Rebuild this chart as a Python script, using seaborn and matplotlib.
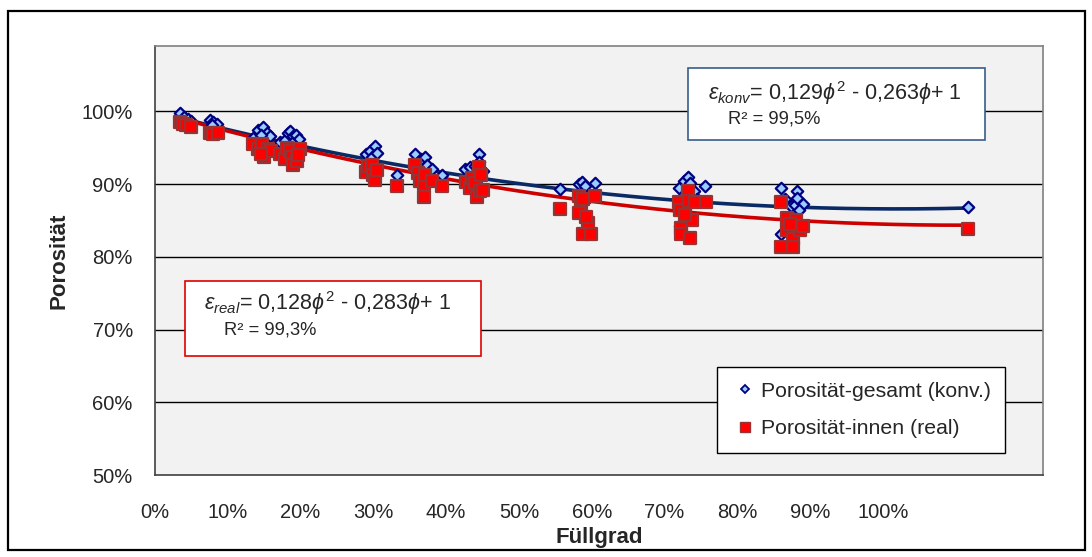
import numpy as np
import pandas as pd
import matplotlib
matplotlib.use("Agg")
import matplotlib.pyplot as plt
from matplotlib.lines import Line2D
from matplotlib.patches import Rectangle
import seaborn as sns

# Füllgrad / Porosität - gesamt (konventionell)
konv_x = [0.034, 0.040, 0.045, 0.050,
          0.076, 0.080, 0.085, 0.078,
          0.135, 0.141, 0.148, 0.154, 0.158, 0.145,
          0.172, 0.179, 0.183, 0.186, 0.190, 0.194, 0.198, 0.188,
          0.290, 0.295, 0.302, 0.298, 0.305,
          0.332,
          0.357, 0.365, 0.371, 0.374, 0.380, 0.394,
          0.426, 0.433, 0.440, 0.445, 0.445, 0.450, 0.447,
          0.556, 0.582, 0.587, 0.591, 0.604, 0.590,
          0.720, 0.727, 0.732, 0.735, 0.740, 0.755, 0.721, 0.745,
          0.860, 0.866, 0.874, 0.879, 0.882, 0.882, 0.890, 0.860, 0.885,
          1.117]
konv_y = [0.998, 0.993, 0.990, 0.987,
          0.988, 0.985, 0.983, 0.981,
          0.963, 0.974, 0.978, 0.971, 0.966, 0.968,
          0.958, 0.961, 0.971, 0.973, 0.966, 0.968, 0.962, 0.956,
          0.941, 0.945, 0.952, 0.937, 0.943,
          0.912,
          0.941, 0.935, 0.938, 0.927, 0.921, 0.913,
          0.921, 0.923, 0.925, 0.942, 0.930, 0.918, 0.910,
          0.894, 0.900, 0.903, 0.898, 0.902, 0.875,
          0.895, 0.905, 0.910, 0.902, 0.890, 0.898, 0.843, 0.880,
          0.895, 0.880, 0.870, 0.872, 0.890, 0.881, 0.873, 0.832, 0.865,
          0.868]

# Füllgrad / Porosität - innen (real)
real_x = [0.034, 0.038, 0.043, 0.050,
          0.076, 0.080, 0.086,
          0.135, 0.141, 0.147, 0.150, 0.155, 0.160, 0.145,
          0.172, 0.179, 0.182, 0.185, 0.188, 0.190, 0.195, 0.199, 0.197,
          0.290, 0.293, 0.298, 0.300, 0.302, 0.305,
          0.332,
          0.357, 0.362, 0.364, 0.369, 0.370, 0.371, 0.380, 0.394,
          0.427, 0.433, 0.436, 0.440, 0.443, 0.445, 0.446, 0.451, 0.448,
          0.556, 0.582, 0.585, 0.582, 0.588, 0.595, 0.588, 0.599, 0.604, 0.592,
          0.720, 0.721, 0.722, 0.723, 0.732, 0.734, 0.735, 0.738, 0.742, 0.757, 0.728,
          0.860, 0.860, 0.868, 0.868, 0.876, 0.876, 0.880, 0.886, 0.890, 0.872,
          1.117]
real_y = [0.985, 0.983, 0.981, 0.979,
          0.971, 0.969, 0.970,
          0.955, 0.948, 0.955, 0.938, 0.948, 0.945, 0.942,
          0.941, 0.934, 0.950, 0.945, 0.938, 0.927, 0.932, 0.948, 0.940,
          0.917, 0.925, 0.927, 0.912, 0.906, 0.920,
          0.897,
          0.927, 0.915, 0.904, 0.900, 0.883, 0.913, 0.904, 0.897,
          0.903, 0.895, 0.909, 0.902, 0.883, 0.923, 0.890, 0.892, 0.912,
          0.866, 0.884, 0.870, 0.860, 0.879, 0.846, 0.832, 0.832, 0.884, 0.855,
          0.875, 0.865, 0.840, 0.831, 0.890, 0.877, 0.826, 0.851, 0.876, 0.875, 0.858,
          0.875, 0.814, 0.854, 0.837, 0.824, 0.813, 0.851, 0.837, 0.843, 0.845,
          0.839]

# Trendline coefficients as printed in the chart (a*phi^2 + b*phi + c)
konv_coef = [0.129, -0.263, 1.0]
real_coef = [0.128, -0.283, 1.0]

x_ticks = [0.0, 0.1, 0.2, 0.3, 0.4, 0.5, 0.6, 0.7, 0.8, 0.9, 1.0, 1.1, 1.2]
x_labels = ["0%", "10%", "20%", "30%", "40%", "50%", "60%", "70%", "80%", "90%", "100%", "", ""]
y_ticks = [0.5, 0.6, 0.7, 0.8, 0.9, 1.0]
y_labels = ["50%", "60%", "70%", "80%", "90%", "100%"]

sns.set_style("white")
plt.rcParams["font.family"] = ["Liberation Sans", "DejaVu Sans"]
plt.rcParams["mathtext.fontset"] = "custom"
plt.rcParams["mathtext.rm"] = "Liberation Sans"
plt.rcParams["mathtext.it"] = "Liberation Sans:italic"
plt.rcParams["mathtext.fallback"] = "stixsans"

W, H = 1092, 557
fig = plt.figure(figsize=(W / 100, H / 100), dpi=100)
ax = fig.add_axes([155 / W, 1 - 475 / H, (1043 - 155) / W, (475 - 46) / H])
ax.set_facecolor("#f2f2f2")

# figure frame
fig.patches.append(Rectangle((8 / W, 1 - 550 / H), (1085 - 8) / W, (550 - 11) / H,
                             transform=fig.transFigure, fill=False,
                             edgecolor="black", linewidth=1.6, zorder=0))

konv = pd.DataFrame({"x": konv_x, "y": konv_y})
real = pd.DataFrame({"x": real_x, "y": real_y})

xs = np.linspace(min(konv_x), max(konv_x), 200)
trend = pd.DataFrame({"x": xs,
                      "konv": np.polyval(konv_coef, xs),
                      "real": np.polyval(real_coef, xs)})

for yv in y_ticks[1:]:
    ax.axhline(yv, color="black", linewidth=1.0, zorder=1)

sns.lineplot(data=trend, x="x", y="konv", ax=ax, color="#0a2a66", linewidth=2.6, zorder=3)
sns.lineplot(data=trend, x="x", y="real", ax=ax, color="#cc0000", linewidth=2.6, zorder=3)

sns.scatterplot(data=konv, x="x", y="y", ax=ax, marker="D", s=34,
                color="#99ccff", edgecolor="#000080", linewidth=1.6, zorder=4)
sns.scatterplot(data=real, x="x", y="y", ax=ax, marker="s", s=66,
                color="#ff0000", edgecolor="#993333", linewidth=1.6, zorder=5)

ax.set_xlim(0, 1.22)
ax.set_ylim(0.5, 1.09)
ax.set_xticks(x_ticks)
ax.set_xticklabels(x_labels)
ax.set_yticks(y_ticks)
ax.set_yticklabels(y_labels)
ax.tick_params(axis="both", direction="out", length=5, width=1, color="#404040",
               labelsize=14.5)
ax.tick_params(axis="y", pad=11)
ax.tick_params(axis="x", pad=15)
for s in ax.spines.values():
    s.set_color("#808080")
    s.set_linewidth(1.2)
ax.spines["left"].set_color("#404040")
ax.spines["bottom"].set_color("#404040")

ax.set_xlabel("Füllgrad", fontsize=16, fontweight="bold")
ax.xaxis.set_label_coords(0.5, -(527 - 475) / 429)
ax.set_ylabel("Porosität", fontsize=16, fontweight="bold")
ax.yaxis.set_label_coords(-(155 - 70) / 888, 0.5)

# equation boxes
def box(x0, y0, x1, y1, ec):
    fig.patches.append(Rectangle((x0 / W, 1 - y1 / H), (x1 - x0) / W, (y1 - y0) / H,
                                 transform=fig.transFigure, facecolor="white",
                                 edgecolor=ec, linewidth=1.2, zorder=6))

box(688, 68, 985, 140, "#385d8a")
fig.text(708 / W, 1 - 93 / H,
         r"$\it{\varepsilon_{konv}}$= 0,129$\it{\phi}$$^{\,2}$ - 0,263$\it{\phi}$+ 1",
         fontsize=15.5, va="center", ha="left", zorder=7)
fig.text(728 / W, 1 - 119 / H, "R² = 99,5%", fontsize=13.2, va="center", ha="left", zorder=7)

box(185, 281, 481, 356, "#e00000")
fig.text(204 / W, 1 - 303 / H,
         r"$\it{\varepsilon_{real}}$= 0,128$\it{\phi}$$^{\,2}$ - 0,283$\it{\phi}$+ 1",
         fontsize=15.5, va="center", ha="left", zorder=7)
fig.text(224 / W, 1 - 330 / H, "R² = 99,3%", fontsize=13.2, va="center", ha="left", zorder=7)

handles = [Line2D([], [], linestyle="none", marker="D", markersize=4.5,
                  markerfacecolor="#99ccff", markeredgecolor="#000080", markeredgewidth=1.3),
           Line2D([], [], linestyle="none", marker="s", markersize=6.5,
                  markerfacecolor="#ff0000", markeredgecolor="#993333", markeredgewidth=1.0)]
leg = fig.legend(handles, ["Porosität-gesamt (konv.)", "Porosität-innen (real)"],
                 loc="upper left", bbox_to_anchor=(717 / W, 1 - 367 / H),
                 fontsize=15.3, frameon=True, fancybox=False, edgecolor="black",
                 framealpha=1, handlelength=1.2, handletextpad=0.15,
                 labelspacing=0.85, borderpad=0.7, borderaxespad=0)
leg.get_frame().set_linewidth(1.0)

fig.savefig("out.png", dpi=100)
